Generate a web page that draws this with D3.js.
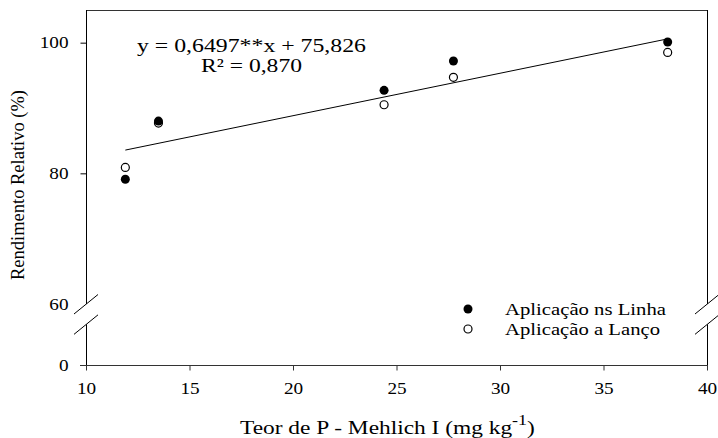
<html lang="pt">
<head>
  <meta charset="UTF-8">
  <title>Rendimento Relativo</title>
  <script src="https://cdn.jsdelivr.net/npm/d3@7"></script>
  <style>
    body { margin: 0; background: #fff; }
    svg text { font-family: "Liberation Serif", "DejaVu Serif", serif; fill: #000; }
  </style>
</head>
<body>
  <svg width="718" height="438"></svg>

  <script>
    // data
    const teorP = [11.9, 13.5, 24.4, 27.75, 38.1];
    const linha = [79.1, 88.0, 92.7, 97.2, 100.1];
    const lanco = [80.9, 87.7, 90.5, 94.7, 98.5];
    const xTicks = [10, 15, 20, 25, 30, 35, 40];
    const yTicks = [0, 60, 80, 100];
    const slope = 0.6497, intercept = 75.826;
    const legendLabels = ["Aplicação ns Linha", "Aplicação a Lanço"];

    const svg = d3.select("svg");

    // plot frame
    const pLeft = 86, pRight = 707, pTop = 10, pBottom = 365;
    const sx = 1.2; // glyphs of the original look stretched horizontally
    const serif = "Liberation Serif";

    const x = d3.scaleLinear().domain([10, 40]).range([pLeft, pRight]);
    // broken axis: 0-60 squeezed, 60-105 linear
    const y = d3.scaleLinear().domain([0, 60, 105]).range([pBottom, 304, pTop]);
    const breakLo = 40, breakHi = 60;

    // top frame line
    svg.append("line")
      .attr("x1", pLeft).attr("x2", pRight)
      .attr("y1", pTop + 0.5).attr("y2", pTop + 0.5)
      .attr("stroke", "#333");

    // vertical axis segments (left and right) with gap at the break
    [pLeft, pRight].forEach(xx => {
      svg.append("line")
        .attr("x1", xx + 0.5).attr("x2", xx + 0.5)
        .attr("y1", y(105)).attr("y2", y(breakHi))
        .attr("stroke", "#000");
      svg.append("line")
        .attr("x1", xx + 0.5).attr("x2", xx + 0.5)
        .attr("y1", y(breakLo)).attr("y2", pBottom)
        .attr("stroke", "#000");
      [breakHi, breakLo].forEach(v => {
        svg.append("line")
          .attr("x1", xx - 12).attr("y1", y(v) + 10)
          .attr("x2", xx + 12).attr("y2", y(v) - 9.5)
          .attr("stroke", "#000");
      });
    });

    // x axis
    const gx = svg.append("g")
      .attr("transform", `translate(0,${pBottom + 0.5})`)
      .call(d3.axisBottom(x).tickValues(xTicks).tickSize(5).tickSizeOuter(0).tickPadding(12));
    gx.select(".domain").remove();
    gx.attr("font-family", serif);
    gx.append("line")
      .attr("x1", pLeft - 6).attr("x2", pRight + 1)
      .attr("stroke", "#333");
    gx.selectAll(".tick line").attr("stroke", "#333");
    gx.selectAll(".tick text")
      .attr("font-size", 16)
      .attr("transform", `scale(${sx},1)`);

    // y axis
    const gy = svg.append("g")
      .attr("transform", `translate(${pLeft + 0.5},0)`)
      .call(d3.axisLeft(y).tickValues(yTicks).tickSize(6).tickSizeOuter(0));
    gy.select(".domain").remove();
    gy.attr("font-family", serif);
    gy.selectAll(".tick").filter(d => d === 0 || d === 60).select("line").remove();
    gy.selectAll(".tick text")
      .attr("x", -18 / sx)
      .attr("font-size", 16)
      .attr("transform", `scale(${sx},1)`);

    // regression line
    const xr = d3.extent(teorP);
    svg.append("line")
      .attr("x1", x(xr[0])).attr("y1", y(slope * xr[0] + intercept))
      .attr("x2", x(xr[1])).attr("y2", y(slope * xr[1] + intercept))
      .attr("stroke", "#000").attr("stroke-width", 1);

    // points
    svg.append("g").selectAll("circle")
      .data(teorP.map((t, i) => [t, lanco[i]]))
      .join("circle")
      .attr("cx", d => x(d[0])).attr("cy", d => y(d[1]))
      .attr("r", 4).attr("fill", "#fff").attr("stroke", "#000").attr("stroke-width", 1.2);
    svg.append("g").selectAll("circle")
      .data(teorP.map((t, i) => [t, linha[i]]))
      .join("circle")
      .attr("cx", d => x(d[0])).attr("cy", d => y(d[1]))
      .attr("r", 4.5).attr("fill", "#000");

    // equation
    const eq = svg.append("g").attr("font-size", 19);
    eq.append("text")
      .attr("x", 137).attr("y", 52)
      .attr("textLength", 229).attr("lengthAdjust", "spacingAndGlyphs")
      .text(`y = ${String(slope).replace(".", ",")}**x + ${String(intercept).replace(".", ",")}`);
    eq.append("text")
      .attr("x", 201).attr("y", 72)
      .attr("textLength", 101).attr("lengthAdjust", "spacingAndGlyphs")
      .text("R² = 0,870");

    // legend
    const lg = svg.append("g");
    legendLabels.forEach((lab, i) => {
      const ly = 309 + i * 20;
      lg.append("circle")
        .attr("cx", 468).attr("cy", ly)
        .attr("r", i === 0 ? 4.5 : 4)
        .attr("fill", i === 0 ? "#000" : "#fff")
        .attr("stroke", "#000").attr("stroke-width", i === 0 ? 0 : 1.2);
      lg.append("text")
        .attr("x", 505).attr("y", ly + 6)
        .attr("font-size", 16.5)
        .attr("textLength", i === 0 ? 161 : 155).attr("lengthAdjust", "spacingAndGlyphs")
        .text(lab);
    });

    // axis titles
    svg.append("text")
      .attr("transform", "translate(24,185) rotate(-90)")
      .attr("text-anchor", "middle")
      .attr("font-size", 18)
      .attr("textLength", 190).attr("lengthAdjust", "spacingAndGlyphs")
      .text("Rendimento Relativo (%)");

    const xt = svg.append("text")
      .attr("transform", `translate(240,434) scale(${sx},1)`)
      .attr("font-size", 19.5);
    xt.append("tspan").text("Teor de P - Mehlich I (mg kg");
    xt.append("tspan").attr("font-size", 15).attr("dy", -9).text("-1");
    xt.append("tspan").attr("dy", 9).text(")");
  </script>
</body>
</html>
